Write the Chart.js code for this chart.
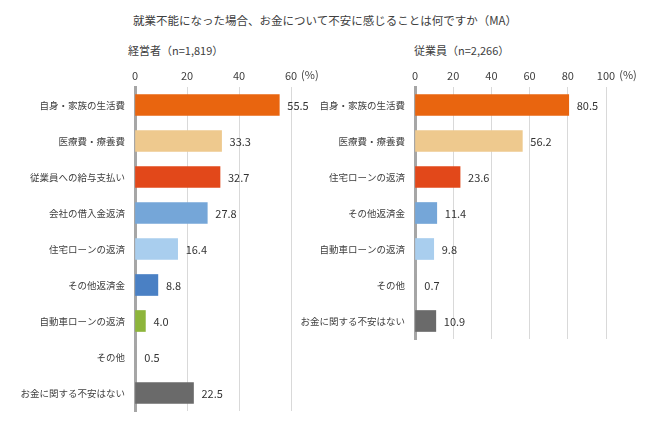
<!DOCTYPE html>
<html><head><meta charset="utf-8">
<script src="https://cdn.jsdelivr.net/npm/chart.js@4"></script>
<style>
html,body{margin:0;padding:0;background:#fff;}
#wrap{position:relative;width:650px;height:434px;overflow:hidden;font-family:"Noto Sans CJK JP","Noto Sans",sans-serif;color:#404040;}
#title{position:absolute;left:0;top:12px;width:650px;text-align:center;font-size:11.5px;}
.sub{position:absolute;top:42px;font-size:11px;}
canvas{position:absolute;top:0;}
</style></head>
<body><div id="wrap">
<div id="title">就業不能になった場合、お金について不安に感じることは何ですか（MA）</div>
<div class="sub" style="left:128px;">経営者（n=1,819）</div>
<div class="sub" style="left:414px;">従業員（n=2,266）</div>
<canvas id="cA" width="330" height="434" style="left:0;width:330px;height:434px;"></canvas>
<canvas id="cB" width="360" height="434" style="left:290px;width:360px;height:434px;"></canvas>
</div>
<script>
const categoriesA = ['自身・家族の生活費','医療費・療養費','従業員への給与支払い','会社の借入金返済','住宅ローンの返済','その他返済金','自動車ローンの返済','その他','お金に関する不安はない'];
const valuesA = [55.5, 33.3, 32.7, 27.8, 16.4, 8.8, 4.0, 0.5, 22.5];
const colorsA = ['#E9650F','#EEC98E','#E2481A','#75A6D8','#A9CEEE','#4A80C4','#8DB53B','#A5A5A5','#6A6A6A'];
const ticksA = [0, 20, 40, 60];

const categoriesB = ['自身・家族の生活費','医療費・療養費','住宅ローンの返済','その他返済金','自動車ローンの返済','その他','お金に関する不安はない'];
const valuesB = [80.5, 56.2, 23.6, 11.4, 9.8, 0.7, 10.9];
const colorsB = ['#E9650F','#EEC98E','#E2481A','#75A6D8','#A9CEEE','#A5A5A5','#6A6A6A'];
const ticksB = [0, 20, 40, 60, 80, 100];

const FONT = '"Noto Sans CJK JP","Noto Sans",sans-serif';

const valueLabels = {
  id: 'valueLabels',
  afterDatasetsDraw(chart) {
    const ctx = chart.ctx;
    const meta = chart.getDatasetMeta(0);
    ctx.save();
    ctx.font = '11px ' + FONT;
    ctx.fillStyle = '#333';
    ctx.textAlign = 'left';
    ctx.textBaseline = 'middle';
    meta.data.forEach((bar, i) => {
      const v = chart.data.datasets[0].data[i];
      ctx.fillText(v.toFixed(1), bar.x + 8, bar.y + 1);
    });
    ctx.restore();
  }
};
const unitLabel = {
  id: 'unitLabel',
  afterDraw(chart) {
    const ctx = chart.ctx;
    const x = chart.scales.x;
    const last = x.ticks[x.ticks.length - 1];
    ctx.save();
    ctx.font = '11px ' + FONT;
    const w = ctx.measureText(String(last.value)).width;
    ctx.fillStyle = '#404040';
    ctx.textAlign = 'left';
    ctx.textBaseline = 'middle';
    ctx.fillText('(%)', x.getPixelForValue(last.value) + w / 2 + 4, chart.chartArea.top - 12);
    ctx.restore();
  }
};

function makeChart(id, cats, vals, cols, tks, yWidth, padRight, padBottom) {
  return new Chart(document.getElementById(id), {
    type: 'bar',
    data: { labels: cats, datasets: [{ data: vals, backgroundColor: cols, barThickness: 21, borderWidth: 0 }] },
    options: {
      indexAxis: 'y',
      responsive: false,
      animation: false,
      layout: { padding: { top: 67, bottom: padBottom, left: 0, right: padRight } },
      plugins: { legend: { display: false }, tooltip: { enabled: false } },
      scales: {
        x: {
          position: 'top',
          min: tks[0], max: tks[tks.length - 1],
          afterBuildTicks(s) { s.ticks = tks.map(v => ({ value: v })); },
          afterFit(s) { s.height = 20; },
          ticks: { padding: 5, color: '#404040', font: { family: FONT, size: 11 } },
          grid: { drawTicks: false, color: c => (c.tick && c.tick.value === 0) ? 'rgba(0,0,0,0)' : '#D9D9D9', lineWidth: 1 },
          border: { display: false }
        },
        y: {
          afterFit(s) { s.width = yWidth; },
          ticks: { padding: 10, color: '#404040', font: { family: FONT, size: 9.5 } },
          grid: { display: false, drawTicks: false },
          border: { display: true, color: '#A6A6A6', width: 3 }
        }
      }
    },
    plugins: [valueLabels, unitLabel]
  });
}
makeChart('cA', categoriesA, valuesA, colorsA, ticksA, 135, 39, 23);
makeChart('cB', categoriesB, valuesB, colorsB, ticksB, 125, 44, 95);
</script>
</body></html>
